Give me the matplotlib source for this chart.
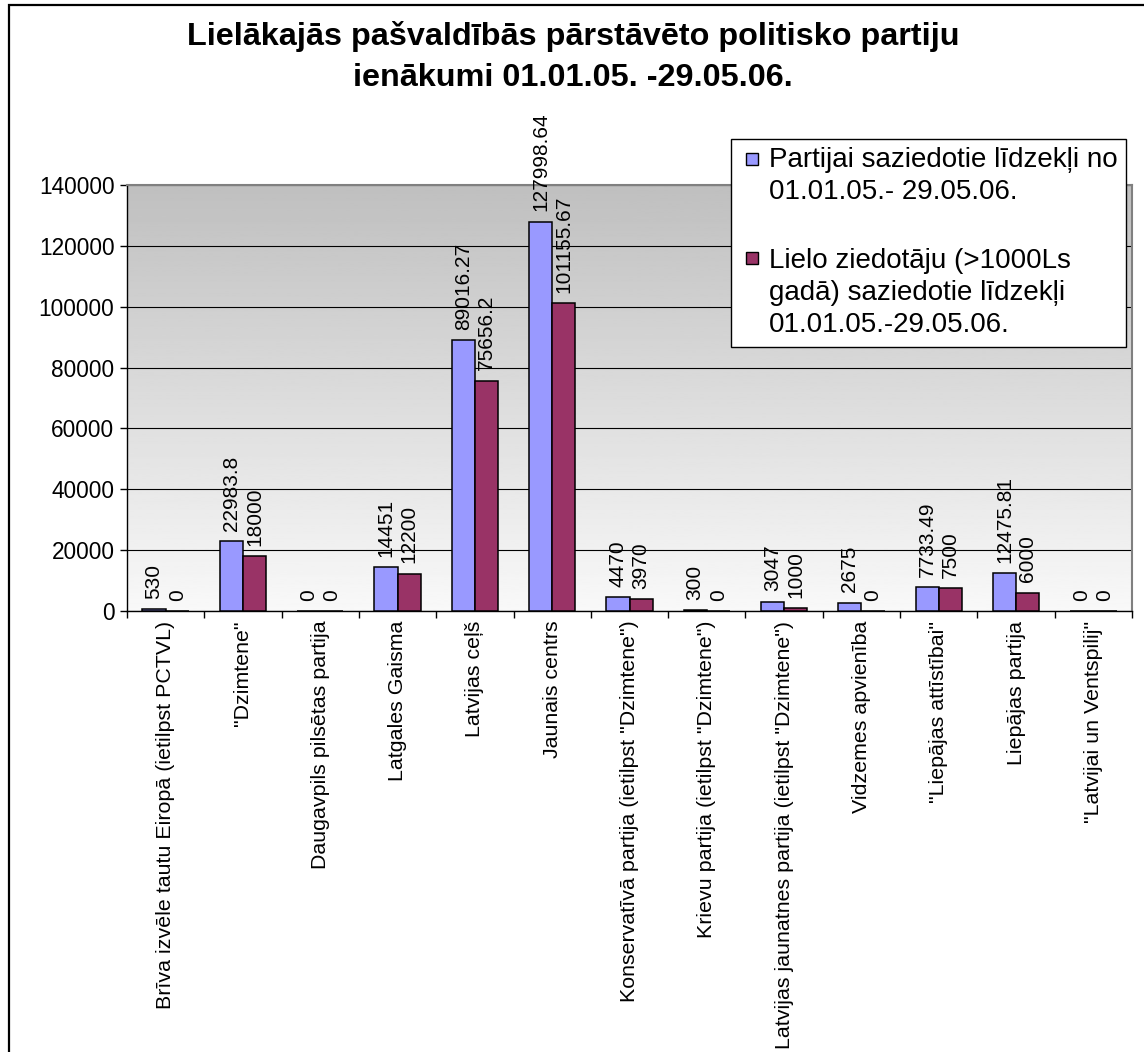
import matplotlib
matplotlib.use("Agg")
import matplotlib.pyplot as plt
import numpy as np
from matplotlib.patches import Rectangle
from matplotlib.legend_handler import HandlerPatch

plt.rcParams['font.family'] = ['Liberation Sans', 'DejaVu Sans']

categories = [
    "Brīva izvēle tautu Eiropā (ietilpst PCTVL)",
    "\"Dzimtene\"",
    "Daugavpils pilsētas partija",
    "Latgales Gaisma",
    "Latvijas ceļš",
    "Jaunais centrs",
    "Konservatīvā partija (ietilpst \"Dzimtene\")",
    "Krievu partija (ietilpst \"Dzimtene\")",
    "Latvijas jaunatnes partija (ietilpst \"Dzimtene\")",
    "Vidzemes apvienība",
    "\"Liepājas attīstībai\"",
    "Liepājas partija",
    "\"Latvijai un Ventspilij\"",
]
series1 = [530, 22983.8, 0, 14451, 89016.27, 127998.64, 4470, 300, 3047, 2675, 7733.49, 12475.81, 0]
series2 = [0, 18000, 0, 12200, 75656.2, 101155.67, 3970, 0, 1000, 0, 7500, 6000, 0]
name1 = "Partijai saziedotie līdzekļi no\n01.01.05.- 29.05.06."
name2 = "Lielo ziedotāju (>1000Ls\ngadā) saziedotie līdzekļi\n01.01.05.-29.05.06."
yticks = [0, 20000, 40000, 60000, 80000, 100000, 120000, 140000]
title_lines = ["Lielākajās pašvaldībās pārstāvēto politisko partiju",
               "ienākumi 01.01.05. -29.05.06."]
color1 = "#9999FF"
color2 = "#993366"

W, H = 1144, 1052
fig = plt.figure(figsize=(W / 100, H / 100), dpi=100)
fig.patch.set_facecolor("white")

# outer chart frame
fig.patches.append(Rectangle((9 / W, -0.2), 2, 1 - 5 / H + 0.2, transform=fig.transFigure,
                             fill=False, edgecolor="black", linewidth=1.6, clip_on=False))

L, R, T, B = 127, 1132, 185, 611
ax = fig.add_axes([L / W, 1 - B / H, (R - L) / W, (B - T) / H])

# gradient background
grad = np.linspace(0.975, 0.75, 256).reshape(-1, 1)
ax.imshow(grad, cmap="gray", vmin=0, vmax=1, aspect="auto", extent=[0, 1, 0, 1],
          transform=ax.transAxes, zorder=0, origin="lower")

x = np.arange(len(categories))
bw = 0.3
b1 = ax.bar(x - bw / 2, series1, bw, color=color1, edgecolor="black", linewidth=1.1, zorder=3)
b2 = ax.bar(x + bw / 2, series2, bw, color=color2, edgecolor="black", linewidth=1.1, zorder=3)


def fmt(v):
    return f"{v:.2f}".rstrip("0").rstrip(".")


for bars, vals in ((b1, series1), (b2, series2)):
    for rect, v in zip(bars, vals):
        ax.annotate(fmt(v), (rect.get_x() + rect.get_width() / 2, v), xytext=(0, 7.5),
                    textcoords="offset points", rotation=90, ha="center", va="bottom",
                    fontsize=15, zorder=5, annotation_clip=False)

ax.set_xlim(-0.5, len(categories) - 0.5)
ax.set_ylim(0, 140000)
ax.set_yticks(yticks)
ax.set_yticklabels([str(t) for t in yticks], fontsize=16.3)
ax.yaxis.grid(True, color="black", linewidth=0.8, zorder=1)
ax.set_axisbelow(True)
ax.tick_params(axis="y", direction="out", length=5, width=1, pad=4)

ax.set_xticks(x)
ax.set_xticklabels(categories, rotation=90, fontsize=15.4, va="top", ha="center")
ax.tick_params(axis="x", which="major", length=0, pad=7)
ax.set_xticks(np.arange(len(categories) + 1) - 0.5, minor=True)
ax.tick_params(axis="x", which="minor", direction="out", length=5, width=1)

for s in ("top", "right"):
    ax.spines[s].set_color("#808080")
    ax.spines[s].set_linewidth(1.5)
for s in ("left", "bottom"):
    ax.spines[s].set_color("black")
    ax.spines[s].set_linewidth(1)

LFS = 20
MSIZE = 12 * 72 / 100  # marker size in points


def make_handler(nlines):
    def pf(legend, orig_handle, xdescent, ydescent, width, height, fontsize):
        shift = 0.64 * fontsize * (nlines - 1)
        cy = -ydescent + height / 2 + shift
        return Rectangle((-xdescent + width - MSIZE, cy - MSIZE / 2), MSIZE, MSIZE)
    return HandlerPatch(patch_func=pf)


h1 = Rectangle((0, 0), 1, 1, facecolor=color1, edgecolor="black", linewidth=1)
h2 = Rectangle((0, 0), 1, 1, facecolor=color2, edgecolor="black", linewidth=1)
leg = fig.legend(handles=[h1, h2], labels=[name1, name2], fontsize=LFS,
                 loc="upper left", bbox_to_anchor=(731 / W, 1 - 139 / H),
                 frameon=True, fancybox=False, edgecolor="black", framealpha=1,
                 handlelength=0.66, handleheight=0.45, handletextpad=0.42,
                 labelspacing=1.55, borderpad=0.3, borderaxespad=0,
                 handler_map={h1: make_handler(2), h2: make_handler(3)})
for t in leg.get_texts():
    t.set_linespacing(1.3)
leg.get_frame().set_linewidth(1)
leg.set_zorder(10)

fig.text(573 / W, 1 - 45 / H, title_lines[0], ha="center", va="baseline", fontsize=23.3,
         fontweight="bold")
fig.text(573 / W, 1 - 86 / H, title_lines[1], ha="center", va="baseline", fontsize=23.3,
         fontweight="bold")

fig.savefig("out.png", dpi=100)
